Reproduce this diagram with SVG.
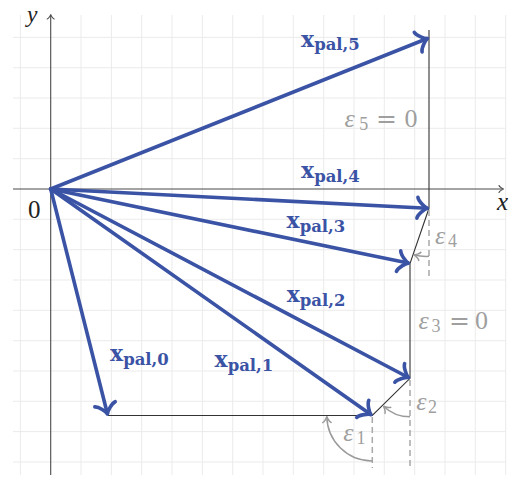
<svg xmlns="http://www.w3.org/2000/svg" width="514" height="477" viewBox="0 0 514 477">
<style>
.grid{stroke:#ebebeb;stroke-width:1;fill:none}
.axis{stroke:#4a4a4a;stroke-width:1.1;fill:none}
.edge{stroke:#333;stroke-width:1.1;fill:none}
.dash{stroke:#a8a8a8;stroke-width:1.5;stroke-dasharray:6 4;fill:none}
.arc{stroke:#9a9a9a;stroke-width:1.5;fill:none;marker-end:url(#ga)}
.vec{stroke:#3a53a5;stroke-width:3.6;fill:none;stroke-linecap:round;marker-end:url(#ba)}
.lbl{font-family:"DejaVu Serif",serif;font-weight:bold;fill:#3a53a5}
.lbl .m{font-size:22px}
.lbl .s{font-size:16.5px}
.gt{font-family:"Liberation Serif",serif;fill:#9f9f9f;font-size:26px}
.it{font-style:italic}
.ax{font-family:"Liberation Serif",serif;font-style:italic;font-size:25px;fill:#222}
</style>
<defs>
<marker id="ba" markerUnits="userSpaceOnUse" viewBox="-12 -12 16 24" refX="0" refY="0" markerWidth="16" markerHeight="24" orient="auto" overflow="visible">
<path d="M -9.8 -10.5 C -9.2 -6.5 -2 -0.6 0 0 C -2 0.6 -9.2 6.5 -9.8 10.5" fill="none" stroke="#3a53a5" stroke-width="3.6" stroke-linecap="round" stroke-linejoin="round"/>
</marker>
<marker id="ga" markerUnits="userSpaceOnUse" viewBox="-8 -6 10 12" refX="0" refY="0" markerWidth="10" markerHeight="12" orient="auto" overflow="visible">
<path d="M -6 -4.2 C -5.5 -2.6 -1.3 -0.25 0 0 C -1.3 0.25 -5.5 2.6 -6 4.2" fill="none" stroke="#9a9a9a" stroke-width="1.5" stroke-linecap="round"/>
</marker>
<marker id="aa" markerUnits="userSpaceOnUse" viewBox="-8 -6 10 12" refX="0" refY="0" markerWidth="10" markerHeight="12" orient="auto" overflow="visible">
<path d="M -4.5 -3.5 C -4.1 -2.2 -1 -0.2 0 0 C -1 0.2 -4.1 2.2 -4.5 3.5" fill="none" stroke="#4a4a4a" stroke-width="1.1" stroke-linecap="round"/>
</marker>
</defs>
<rect x="0" y="0" width="514" height="477" fill="#fff"/>
<g id="grid">
<path class="grid" d="M20.4 15V475 M81 15V475 M111.4 15V475 M141.7 15V475 M172 15V475 M202.4 15V475 M232.7 15V475 M263 15V475 M293.3 15V475 M323.7 15V475 M354 15V475 M384.3 15V475 M414.7 15V475 M445 15V475 M475.3 15V475 M505.7 15V475
M13 37.4H506 M13 67.7H506 M13 98H506 M13 128.3H506 M13 158.7H506 M13 219.3H506 M13 249.7H506 M13 280H506 M13 310.3H506 M13 340.7H506 M13 371H506 M13 401.3H506 M13 431.6H506 M13 462H506"/>
</g>
<g id="axes">
<path class="axis" d="M13 189H503.5" marker-end="url(#aa)"/>
<path class="axis" d="M50.7 475V14.5" marker-end="url(#aa)"/>
<text class="ax" x="497" y="210">x</text>
<text class="ax" x="27" y="21.5" style="font-size:23.5px">y</text>
<text class="gt" x="28" y="218" style="fill:#222;font-size:25px">0</text>
</g>
<g id="connectors">
<path class="edge" d="M107.8 415.5H372.3L410 378.3V263.5L429 208.3V30"/>
<path class="dash" d="M372.3 417V468 M410 380V467 M429 210V280"/>
<path class="arc" d="M372.3 461A45.5 45.5 0 0 1 326.8 416.5"/>
<path class="arc" d="M410 416.8A38.5 38.5 0 0 1 383.5 406.2"/>
<path class="arc" d="M429 256.3A48 48 0 0 1 414 254.8"/>
<path class="vec" d="M50.7 189L427.3 38.5"/>
<path class="vec" d="M50.7 189L427.2 208.2"/>
<path class="vec" d="M50.7 189L408.2 263.1"/>
<path class="vec" d="M50.7 189L408.4 377.5"/>
<path class="vec" d="M50.7 189L370.8 414.5"/>
<path class="vec" d="M50.7 189L107.4 413.8"/>
</g>
<g id="labels-vectors">
<text class="lbl" x="301" y="46.7"><tspan class="m">x</tspan><tspan class="s" dy="3.5">pal,5</tspan></text>
<text class="lbl" x="301" y="178.3"><tspan class="m">x</tspan><tspan class="s" dy="3.5">pal,4</tspan></text>
<text class="lbl" x="286.5" y="228.3"><tspan class="m">x</tspan><tspan class="s" dy="3.5">pal,3</tspan></text>
<text class="lbl" x="286.7" y="302"><tspan class="m">x</tspan><tspan class="s" dy="3.5">pal,2</tspan></text>
<text class="lbl" x="214.5" y="367"><tspan class="m">x</tspan><tspan class="s" dy="3.5">pal,1</tspan></text>
<text class="lbl" x="110" y="361"><tspan class="m">x</tspan><tspan class="s" dy="3.5">pal,0</tspan></text>
</g>
<g id="labels-eps">
<text class="gt" x="344.5" y="126.7"><tspan class="it">ε</tspan><tspan x="359.3" y="130.2" font-size="18">5</tspan></text>
<text class="gt" x="376" y="126.7" style="font-family:'DejaVu Serif',serif;font-size:25px">=</text>
<text class="gt" x="404.5" y="126.7">0</text>
<text class="gt" x="418.5" y="328.7"><tspan class="it">ε</tspan><tspan x="431.5" y="332.2" font-size="18">3</tspan></text>
<text class="gt" x="449" y="328.7" style="font-family:'DejaVu Serif',serif;font-size:25px">=</text>
<text class="gt" x="475" y="328.7">0</text>
<text class="gt" x="343.3" y="441"><tspan class="it">ε</tspan><tspan x="356.5" y="444.3" font-size="18">1</tspan></text>
<text class="gt" x="416.3" y="410"><tspan class="it">ε</tspan><tspan x="428" y="413" font-size="18">2</tspan></text>
<text class="gt" x="435" y="244"><tspan class="it">ε</tspan><tspan x="448" y="247" font-size="18">4</tspan></text>
</g>
</svg>
